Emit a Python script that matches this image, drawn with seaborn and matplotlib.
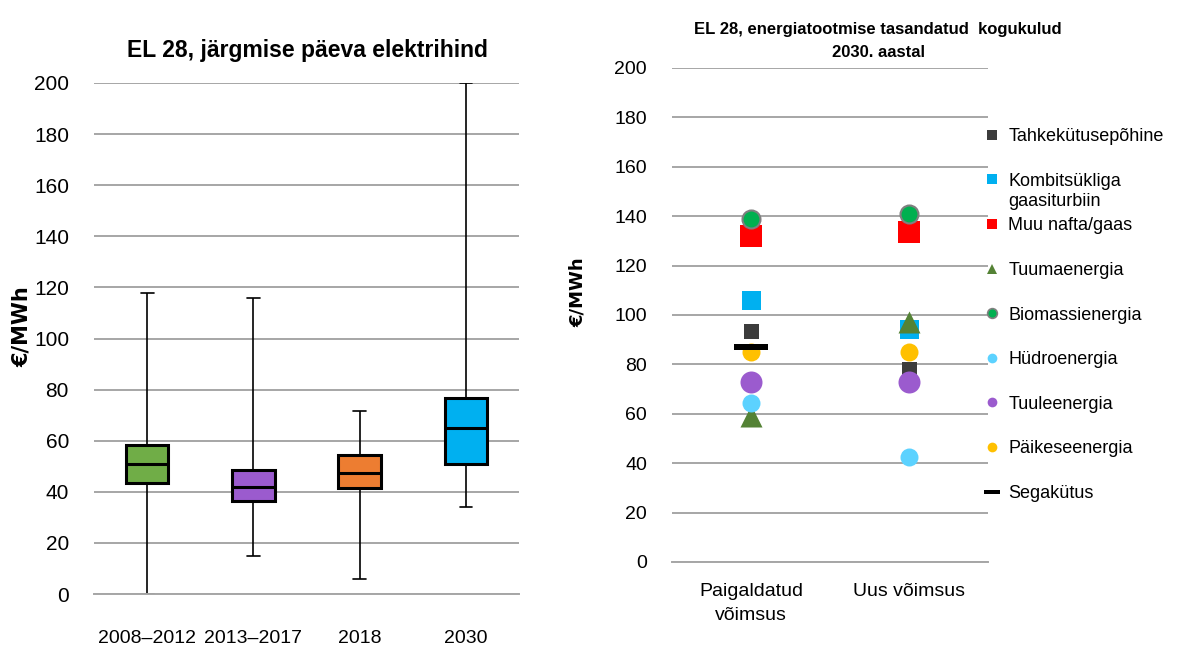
import numpy as np
import pandas as pd
import matplotlib
matplotlib.use("Agg")
import matplotlib.pyplot as plt
from matplotlib.lines import Line2D
from matplotlib.ticker import FixedLocator, MultipleLocator
import seaborn as sns

'''
Data read off the reference chart
'''

# left panel: EU28 day-ahead electricity price, five-number summaries (EUR/MWh)
periods = ["2008–2012", "2013–2017", "2018", "2030"]
price_min = [0.0, 15.0, 6.0, 34.0]
price_q1 = [43.3, 36.5, 41.5, 50.8]
price_med = [51.0, 41.8, 47.5, 64.8]
price_q3 = [58.3, 48.6, 54.3, 76.6]
price_max = [118.0, 116.0, 71.5, 200.0]

# right panel: levelised cost of generation in 2030 (EUR/MWh)
capacity = ["Paigaldatud\nvõimsus", "Uus võimsus"]
tahke = [93.5, 78.0]
kombi = [106.0, 94.5]
muu_nafta = [132.0, 133.5]
tuuma = [59.0, 97.0]
biomass = [139.0, 141.0]
hydro = [64.5, 42.5]
tuul = [73.0, 73.0]
paike = [85.0, 85.0]
sega = [87.0, np.nan]

tech_labels = ["Tahkekütusepõhine", "Kombitsükliga", "Muu nafta/gaas", "Tuumaenergia",
               "Biomassienergia", "Hüdroenergia", "Tuuleenergia", "Päikeseenergia", "Segakütus"]
tech_values = [tahke, kombi, muu_nafta, tuuma, biomass, hydro, tuul, paike, sega]

'''
Styles
'''

box_colors = ["#70AD47", "#9B5BCE", "#ED7D31", "#00B0F0"]
bar_marker = [(-2.5, -0.5), (2.5, -0.5), (2.5, 0.5), (-2.5, 0.5)]
# (color, marker, size in px, edge color)
tech_styles = [
    ("#3C3C3C", "s", 15, None),
    ("#00B0F0", "s", 19, None),
    ("#FF0000", "s", 22, None),
    ("#548235", "^", 22, None),
    ("#00B050", "o", 18, "#7F7F7F"),
    ("#5CD2FF", "o", 18, None),
    ("#9B5BCE", "o", 22, None),
    ("#FFC000", "o", 18, None),
    ("#000000", bar_marker, 34, None),
]

sns.set_style("white")
plt.rcParams["font.family"] = ["Liberation Sans", "DejaVu Sans"]
plt.rcParams["text.color"] = "black"
plt.rcParams["xtick.color"] = "black"
plt.rcParams["ytick.color"] = "black"

grid_col = "#A6A6A6"
W, H = 1179, 648
fig = plt.figure(figsize=(W / 100, H / 100), dpi=100)


def fig_box(x0, y0, x1, y1):
    # pixel box (top-left origin) -> figure fraction rect
    return [x0 / W, 1 - y1 / H, (x1 - x0) / W, (y1 - y0) / H]


'''
Left: box plot
'''
ax1 = fig.add_axes(fig_box(94, 83, 519, 594))
box_df = pd.DataFrame({
    "period": np.repeat(periods, 5),
    "price": np.column_stack([price_min, price_q1, price_med, price_q3, price_max]).ravel(),
})
sns.boxplot(data=box_df, x="period", y="price", hue="period", palette=box_colors,
            order=periods, hue_order=periods, whis=(0, 100), width=0.4, legend=False,
            saturation=1, linecolor="black", linewidth=2.2, fliersize=0, ax=ax1,
            whiskerprops=dict(linewidth=1.2), capprops=dict(linewidth=1.2),
            medianprops=dict(linewidth=2.2), capwidths=0.12)
ax1.set_ylim(0, 200)
ax1.set_xlim(-0.5, 3.5)
ax1.yaxis.set_major_locator(MultipleLocator(20))
ax1.yaxis.grid(True, color=grid_col, linewidth=1.4)
ax1.set_axisbelow(True)
for s in ["left", "top", "right"]:
    ax1.spines[s].set_visible(False)
ax1.spines["bottom"].set_color(grid_col)
ax1.spines["bottom"].set_linewidth(1.4)
ax1.xaxis.set_minor_locator(FixedLocator([-0.5, 0.5, 1.5, 2.5, 3.5]))
ax1.tick_params(axis="x", which="minor", length=9, width=1.4, color=grid_col, direction="out")
ax1.tick_params(axis="x", which="major", length=0, pad=26, labelsize=14)
ax1.tick_params(axis="y", length=0, pad=18, labelsize=15)
ax1.set_xlabel("")
ax1.set_ylabel("")
fig.text(307 / W, 1 - 50 / H, "EL 28, järgmise päeva elektrihind", ha="center", va="center",
         fontsize=16.5, fontweight="bold")
fig.text(22 / W, 1 - 327 / H, "€/MWh", rotation=90, ha="center", va="center",
         fontsize=15, fontweight="bold", fontfamily="DejaVu Sans")

'''
Right: cost markers
'''
ax2 = fig.add_axes(fig_box(672, 68, 988, 562))
handles = []
for label, vals, (col, mk, px, ec) in zip(tech_labels, tech_values, tech_styles):
    d = pd.DataFrame({"cap": capacity, "cost": vals}).dropna()
    sns.scatterplot(data=d, x="cap", y="cost", marker=mk, s=(px * 0.72) ** 2, color=col,
                    edgecolor=ec if ec else col, linewidth=1.5 if ec else 0, ax=ax2, zorder=3)
    hs = 7 if mk is not bar_marker else 11
    handles.append(Line2D([], [], linestyle="none", marker=mk, color=col, markersize=hs,
                          markeredgecolor=ec if ec else col, markeredgewidth=1.2 if ec else 0))
ax2.set_xlim(-0.5, 1.5)
ax2.set_ylim(0, 200)
ax2.set_xticks([0, 1])
ax2.set_xticklabels(capacity, linespacing=1.55)
ax2.yaxis.set_major_locator(MultipleLocator(20))
ax2.yaxis.grid(True, color=grid_col, linewidth=1.4)
ax2.set_axisbelow(True)
for s in ["left", "top", "right"]:
    ax2.spines[s].set_visible(False)
ax2.spines["bottom"].set_color(grid_col)
ax2.spines["bottom"].set_linewidth(1.4)
ax2.xaxis.set_minor_locator(FixedLocator([-0.5, 0.5, 1.5]))
ax2.tick_params(axis="x", which="minor", length=6, width=1.4, color=grid_col, direction="out")
ax2.tick_params(axis="x", which="major", length=0, pad=15, labelsize=14)
ax2.tick_params(axis="y", length=0, pad=18, labelsize=14)
ax2.set_xlabel("")
ax2.set_ylabel("")

fig.text(878 / W, 1 - 41 / H, "EL 28, energiatootmise tasandatud  kogukulud\n2030. aastal",
         ha="center", va="center", multialignment="center", linespacing=1.6,
         fontsize=12, fontweight="bold")
fig.text(578 / W, 1 - 292 / H, "€/MWh", rotation=90, ha="center", va="center",
         fontsize=13, fontweight="bold", fontfamily="DejaVu Sans")

leg = fig.legend(handles, tech_labels, loc="upper left", bbox_to_anchor=(985 / W, 1 - 128 / H),
                 frameon=False, fontsize=13, labelspacing=1.53, handlelength=0.8,
                 handletextpad=0.5, borderpad=0, borderaxespad=0)

# second line of the combined-cycle label sits under it, as in the original
fig.canvas.draw()
kb = leg.get_texts()[1].get_window_extent()
fig.text(kb.x0 / W, (kb.y0 - 3) / H, "gaasiturbiin", ha="left", va="top", fontsize=13)

fig.savefig("out.png", dpi=100)
